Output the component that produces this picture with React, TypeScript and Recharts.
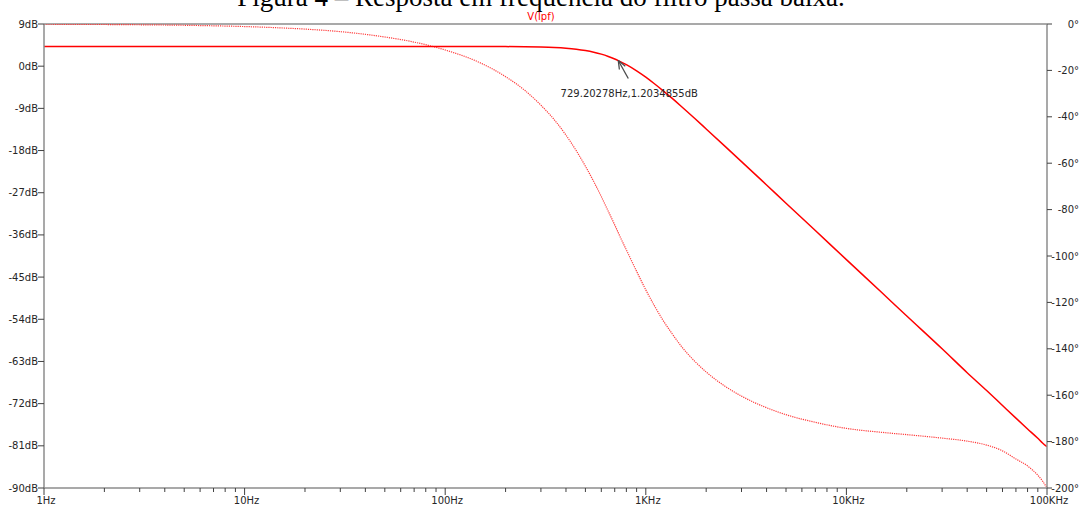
import React from 'react';
import { ComposedChart, Line, XAxis, YAxis, ReferenceLine, ReferenceDot } from 'recharts';

// frequency sweep (Hz)
const freqs = [
  1, 1.5, 2, 3, 5, 7, 10, 15, 20, 30, 50, 70, 100, 150, 200, 250, 300, 350, 400, 450, 500, 550,
  600, 650, 700, 729.2, 800, 900, 1000, 1100, 1200, 1350, 1500, 1750, 2000, 2500, 3000, 4000,
  5000, 7000, 10000, 15000, 20000, 30000, 40000, 50000, 60000, 70000, 80000, 90000, 95000, 100000,
];

// V(lpf) magnitude, dB
const magDb = [
  4.2, 4.2, 4.2, 4.2, 4.2, 4.2, 4.2, 4.2, 4.2, 4.2, 4.2, 4.2, 4.2, 4.19, 4.18, 4.14, 4.08, 3.98,
  3.83, 3.62, 3.34, 2.99, 2.57, 2.08, 1.54, 1.2, 0.32, -1.0, -2.35, -3.7, -4.99, -6.83, -8.54,
  -11.11, -13.39, -17.22, -20.36, -25.35, -29.23, -35.07, -41.27, -48.3, -53.3, -60.3, -65.4,
  -69.2, -72.4, -75.1, -77.4, -79.4, -80.4, -81.2,
];

// V(lpf) phase, degrees
const phaseDeg = [
  -0.1, -0.17, -0.22, -0.33, -0.55, -0.78, -1.1, -1.66, -2.2, -3.3, -5.6, -7.8, -11.2, -16.8,
  -22.7, -28.7, -35.0, -41.3, -47.9, -54.6, -61.3, -67.9, -74.4, -80.7, -86.6, -90, -97.4,
  -106.6, -114.6, -121.2, -126.8, -133.4, -138.8, -145.3, -150.0, -156.3, -160.4, -165.4,
  -168.4, -171.7, -174.3, -176.0, -177.0, -178.5, -179.8, -181.5, -184, -187.5, -190.5,
  -194.5, -197, -200,
];

const majorTicks = [1, 10, 100, 1000, 10000, 100000];
const majorLabels = ['1Hz', '10Hz', '100Hz', '1KHz', '10KHz', '100KHz'];
const dbTicks = [-90, -81, -72, -63, -54, -45, -36, -27, -18, -9, 0, 9];
const degTicks = [-200, -180, -160, -140, -120, -100, -80, -60, -40, -20, 0];

const marker = { f: 729.20278, db: 1.2034855 };

const data = freqs.map((f, i) => ({ f, mag: magDb[i], phase: phaseDeg[i] }));

const xTicks: number[] = [];
majorTicks.forEach((m, i) => {
  xTicks.push(m);
  if (i < majorTicks.length - 1) {
    for (let k = 2; k <= 9; k++) xTicks.push(m * k);
  }
});

const FONT = '"DejaVu Sans", Verdana, sans-serif';
const FS = 10;
const AXIS = '#8c8c8c';
const TICK = '#404040';
const TEXT = '#262626';
const RED = '#ff0000';

const FreqTick = (props: any) => {
  const { x, y, payload } = props;
  const idx = majorTicks.indexOf(payload.value);
  const major = idx >= 0;
  return (
    <g>
      <line x1={x} x2={x} y1={y} y2={y + (major ? 7 : 4)} stroke={TICK} strokeWidth={1} />
      {major && (
        <text x={x + 2} y={y + 16} textAnchor="middle" fontSize={FS} fontFamily={FONT} fill={TEXT}>
          {majorLabels[idx]}
        </text>
      )}
    </g>
  );
};

const DbTick = (props: any) => {
  const { x, y, payload } = props;
  return (
    <g>
      <line x1={x - 6} x2={x} y1={y} y2={y} stroke={TICK} strokeWidth={1} />
      <text x={x - 6} y={y} dy="0.35em" textAnchor="end" fontSize={FS} fontFamily={FONT} fill={TEXT}>
        {payload.value}dB
      </text>
    </g>
  );
};

const DegTick = (props: any) => {
  const { x, y, payload } = props;
  return (
    <g>
      <line x1={x} x2={x + 5} y1={y} y2={y} stroke={TICK} strokeWidth={1} />
      <text x={x + 32} y={y} dy="0.35em" textAnchor="end" fontSize={FS} fontFamily={FONT} fill={TEXT}>
        {payload.value}°
      </text>
    </g>
  );
};

const MarkerShape = (props: any) => {
  const { cx, cy } = props;
  const tx = cx + 10;
  const ty = cy + 18;
  const len = Math.hypot(tx - cx, ty - cy);
  const ux = (tx - cx) / len;
  const uy = (ty - cy) / len;
  const head = (a: number) => {
    const r = (a * Math.PI) / 180;
    return {
      x: cx + 9 * (ux * Math.cos(r) - uy * Math.sin(r)),
      y: cy + 9 * (ux * Math.sin(r) + uy * Math.cos(r)),
    };
  };
  const h1 = head(22);
  const h2 = head(-22);
  return (
    <g>
      <line x1={cx} y1={cy} x2={tx} y2={ty} stroke="#4a4a4a" strokeWidth={1.3} />
      <line x1={cx} y1={cy} x2={h1.x} y2={h1.y} stroke="#4a4a4a" strokeWidth={1.3} />
      <line x1={cx} y1={cy} x2={h2.x} y2={h2.y} stroke="#4a4a4a" strokeWidth={1.3} />
      <text x={cx + 11} y={cy + 36} textAnchor="middle" fontSize={FS} fontFamily={FONT} fill={TEXT}>
        {marker.f}Hz,{marker.db}dB
      </text>
    </g>
  );
};

export default function App() {
  return (
    <div style={{ position: 'absolute', left: 0, top: 0, width: 1083, height: 506, background: '#fff' }}>
      <ComposedChart width={1083} height={506} data={data} margin={{ top: 24, right: 0, bottom: 0, left: 0 }}>
        <XAxis
          dataKey="f"
          type="number"
          scale="log"
          domain={[1, 100000]}
          ticks={xTicks}
          interval={0}
          height={18}
          tickSize={0}
          tickMargin={0}
          tickLine={false}
          tick={<FreqTick />}
          axisLine={{ stroke: AXIS, strokeWidth: 1.5 }}
          allowDataOverflow
        />
        <YAxis
          yAxisId="db"
          orientation="left"
          domain={[-90, 9]}
          ticks={dbTicks}
          interval={0}
          width={44}
          tickSize={0}
          tickMargin={0}
          tickLine={false}
          tick={<DbTick />}
          axisLine={{ stroke: AXIS, strokeWidth: 1.5 }}
          allowDataOverflow
        />
        <YAxis
          yAxisId="deg"
          orientation="right"
          domain={[-200, 0]}
          ticks={degTicks}
          interval={0}
          width={36}
          tickSize={0}
          tickMargin={0}
          tickLine={false}
          tick={<DegTick />}
          axisLine={{ stroke: AXIS, strokeWidth: 1.5 }}
          allowDataOverflow
        />
        <ReferenceLine yAxisId="db" y={9} stroke={AXIS} strokeWidth={1.5} />
        <Line
          yAxisId="deg"
          dataKey="phase"
          type="monotone"
          stroke="#ff3b3b"
          strokeWidth={1.2}
          strokeDasharray="1.2 1"
          dot={false}
          isAnimationActive={false}
        />
        <Line
          yAxisId="db"
          dataKey="mag"
          type="monotone"
          stroke={RED}
          strokeWidth={1.5}
          dot={false}
          isAnimationActive={false}
        />
        <ReferenceDot yAxisId="db" x={marker.f} y={marker.db} r={0} shape={<MarkerShape />} />
      </ComposedChart>
      <svg width={1083} height={506} style={{ position: 'absolute', left: 0, top: 0, pointerEvents: 'none' }}>
        <text x={541} y={6} textAnchor="middle" fontSize={27} fontFamily='"Liberation Serif", "Times New Roman", serif' fill="#000">
          Figura 4 – Resposta em frequência do filtro passa baixa.
        </text>
        <text x={541} y={20} textAnchor="middle" fontSize={FS} fontFamily={FONT} fill={RED}>
          V(lpf)
        </text>
      </svg>
    </div>
  );
}
